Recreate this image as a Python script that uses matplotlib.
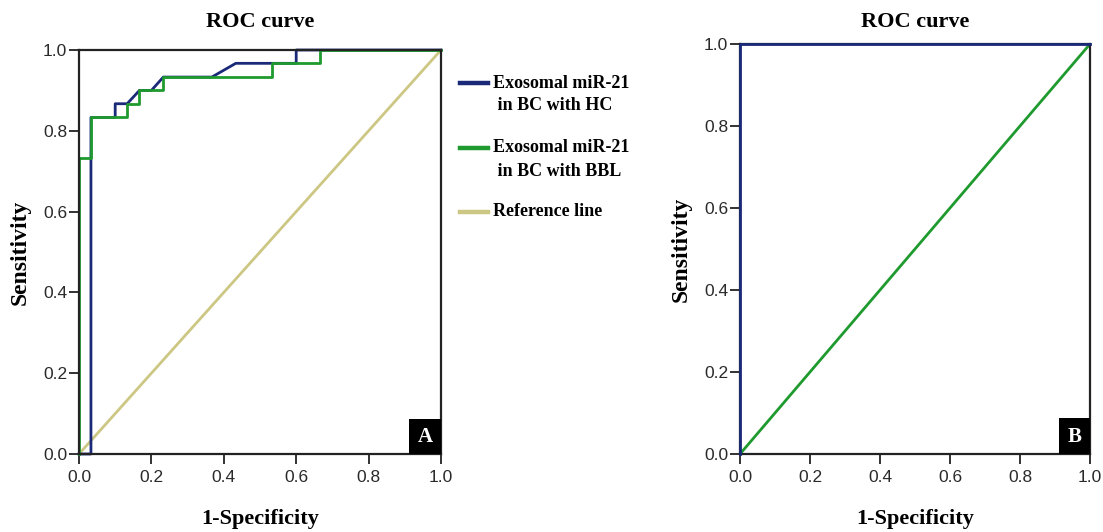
import numpy as np
import matplotlib.pyplot as plt
from matplotlib.lines import Line2D
from matplotlib.patches import Rectangle

# ROC points (1-specificity, sensitivity)
fpr_hc = [0.0, 0.033, 0.033, 0.1, 0.1, 0.133, 0.167, 0.2, 0.233, 0.367, 0.433, 0.6, 0.6, 1.0]
tpr_hc = [0.0, 0.0, 0.833, 0.833, 0.867, 0.867, 0.9, 0.9, 0.933, 0.933, 0.967, 0.967, 1.0, 1.0]
fpr_bbl = [0.0, 0.0, 0.033, 0.033, 0.133, 0.133, 0.167, 0.167, 0.233, 0.233, 0.533, 0.533, 0.667, 0.667, 1.0]
tpr_bbl = [0.0, 0.733, 0.733, 0.833, 0.833, 0.867, 0.867, 0.9, 0.9, 0.933, 0.933, 0.967, 0.967, 1.0, 1.0]
ref_line = [0.0, 1.0]

# panel B
fpr_b1 = [0.0, 0.0, 1.0]
tpr_b1 = [0.0, 1.0, 1.0]
fpr_b2 = [0.0, 1.0]
tpr_b2 = [0.0, 1.0]

ticks = [0.0, 0.2, 0.4, 0.6, 0.8, 1.0]
tick_labels = ['0.0', '0.2', '0.4', '0.6', '0.8', '1.0']
legend_labels = [('Exosomal miR-21', ' in BC with HC'),
                 ('Exosomal miR-21', ' in BC with BBL'),
                 ('Reference line', None)]

BLUE = '#1b2a78'
GREEN = '#1f9a2e'
REF = '#cdc784'
SERIF = 'Liberation Serif'
SANS = 'Liberation Sans'

W, H = 1103, 532
fig = plt.figure(figsize=(W / 100, H / 100), dpi=100)


def px_axes(x0, y0, x1, y1):
    return fig.add_axes([x0 / W, 1 - y1 / H, (x1 - x0) / W, (y1 - y0) / H])


def style(ax, letter, title_pad):
    ax.set_xlim(0, 1)
    ax.set_ylim(0, 1)
    ax.set_xticks(ticks)
    ax.set_yticks(ticks)
    ax.set_xticklabels(tick_labels, fontfamily=SANS, fontsize=12.5, color='#2a2a2a')
    ax.set_yticklabels(tick_labels, fontfamily=SANS, fontsize=12.5, color='#2a2a2a')
    ax.tick_params(axis='both', direction='out', length=7.5, width=1.3, color='#222222')
    ax.tick_params(axis='x', pad=4)
    ax.tick_params(axis='y', pad=1)
    for s in ax.spines.values():
        s.set_linewidth(1.6)
        s.set_color('#222222')
    ax.set_title('ROC curve', fontfamily=SERIF, fontweight='bold', fontsize=16, pad=title_pad)
    ax.set_xlabel('1-Specificity', fontfamily=SERIF, fontweight='bold', fontsize=16, labelpad=17)
    ax.set_ylabel('Sensitivity', fontfamily=SERIF, fontweight='bold', fontsize=17, labelpad=9)
    ax.add_patch(Rectangle((0.912, 0.0), 0.088, 0.087, transform=ax.transAxes,
                           facecolor='black', edgecolor='none', zorder=5, clip_on=False))
    ax.text(0.956, 0.042, letter, transform=ax.transAxes, ha='center', va='center',
            color='white', fontfamily=SERIF, fontweight='bold', fontsize=15, zorder=6)


# panel A
axA = px_axes(79, 50, 441, 454)
axA.plot(ref_line, ref_line, color=REF, lw=2)
axA.plot(fpr_hc, tpr_hc, color=BLUE, lw=2, clip_on=False)
axA.plot(fpr_bbl, tpr_bbl, color=GREEN, lw=2, clip_on=False)
style(axA, 'A', 16.5)

# legend drawn by hand so the line sits on the first text row
leg_colors = [BLUE, GREEN, REF]
leg_y = [83, 148, 212]
for (l1, l2), c, y in zip(legend_labels, leg_colors, leg_y):
    fig.add_artist(Line2D([460 / W, 488 / W], [1 - y / H, 1 - y / H], color=c, lw=3.2))
    fig.text(493 / W, 1 - y / H, l1, fontfamily=SERIF, fontweight='bold', fontsize=13, va='center')
    if l2:
        fig.text(493 / W, 1 - (y + 23) / H, l2, fontfamily=SERIF, fontweight='bold',
                 fontsize=13, va='center')

# panel B
axB = px_axes(740, 44, 1090, 454)
axB.plot(fpr_b2, tpr_b2, color=GREEN, lw=2)
axB.plot(fpr_b1, tpr_b1, color=BLUE, lw=2, clip_on=False, zorder=4)
style(axB, 'B', 12.5)

plt.savefig('out.png', dpi=100)
